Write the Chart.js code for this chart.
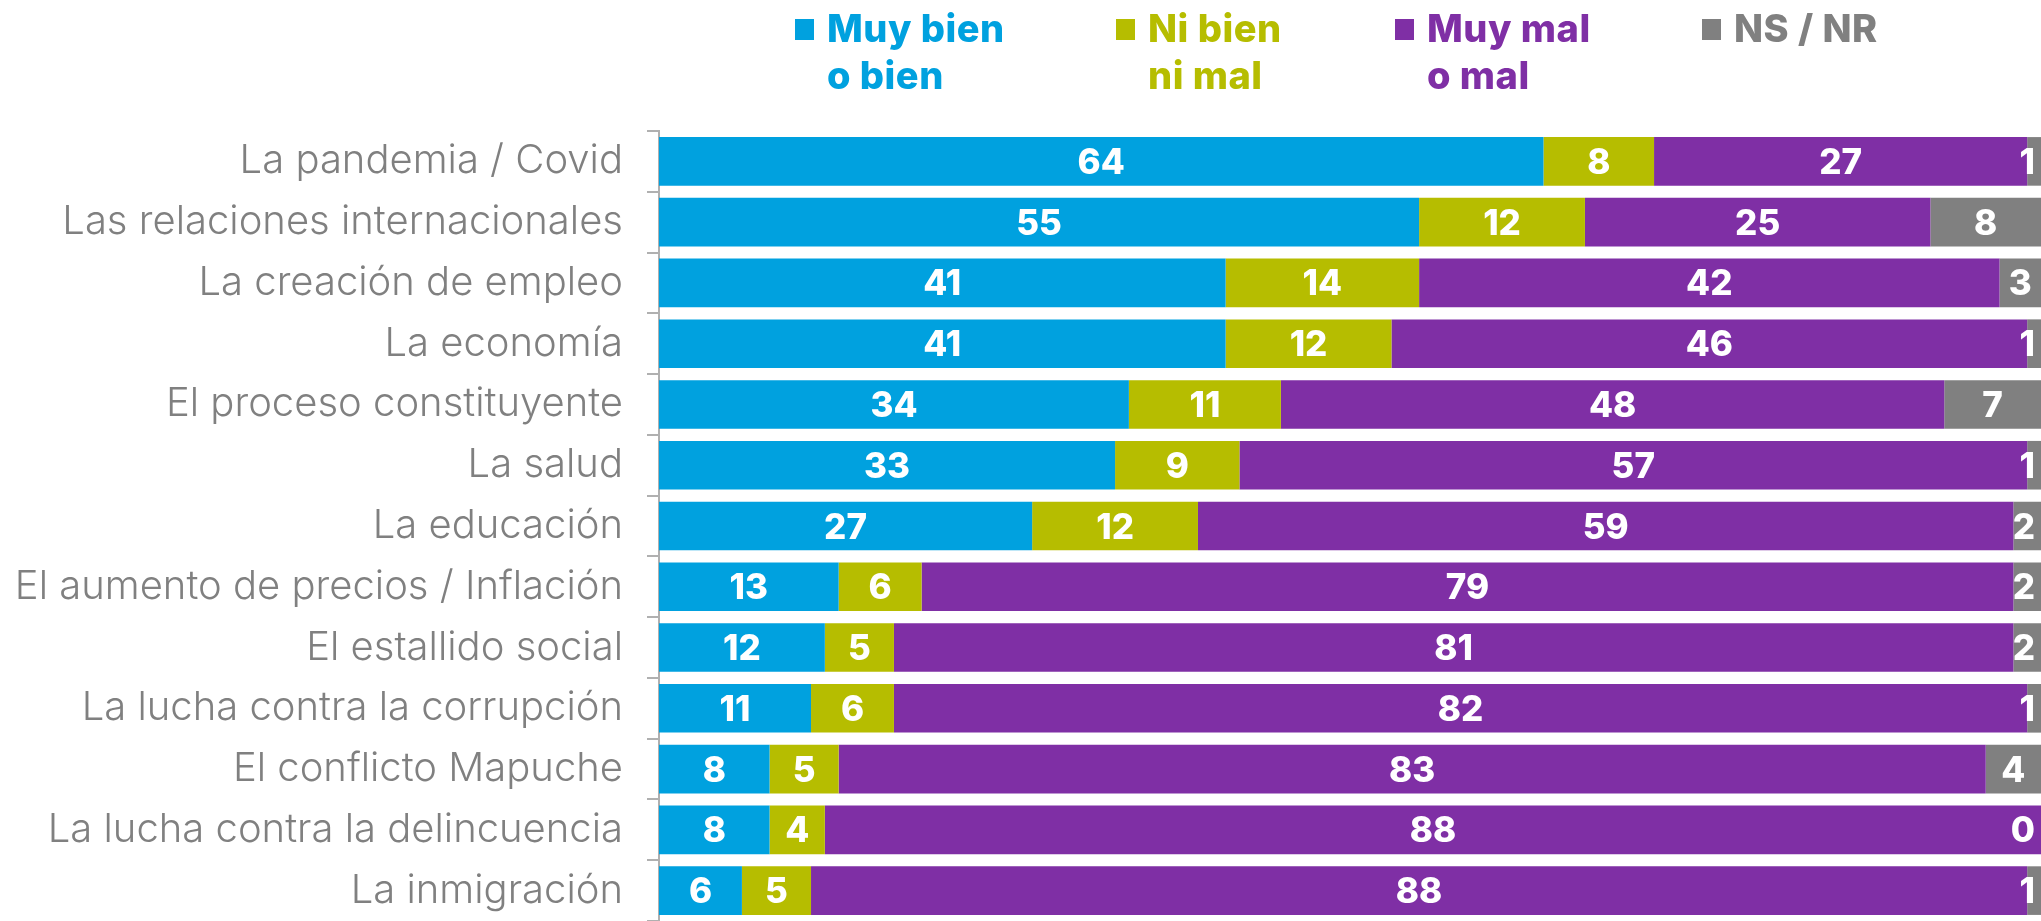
<!DOCTYPE html>
<html>
<head>
<meta charset="utf-8">
<script src="https://cdn.jsdelivr.net/npm/chart.js@4"></script>
<style>
  html, body { margin: 0; padding: 0; background: #fff; }
  #wrap { position: relative; width: 2041px; height: 921px; }
  #legend .item { position: absolute; top: 5px; font-family: Inter, "Open Sans", sans-serif; font-weight: 800; font-size: 38px; line-height: 47px; letter-spacing: 0.5px; }
  #legend .box { position: absolute; left: -32px; top: 14px; width: 19px; height: 21px; }
</style>
</head>
<body>
<div id="wrap">
  <div id="legend"></div>
  <canvas id="surveyChart" width="2041" height="921"></canvas>
</div>
<script>
const categories = [
  "La pandemia / Covid",
  "Las relaciones internacionales",
  "La creación de empleo",
  "La economía",
  "El proceso constituyente",
  "La salud",
  "La educación",
  "El aumento de precios / Inflación",
  "El estallido social",
  "La lucha contra la corrupción",
  "El conflicto Mapuche",
  "La lucha contra la delincuencia",
  "La inmigración"
];
const seriesNames = [["Muy bien", "o bien"], ["Ni bien", "ni mal"], ["Muy mal", "o mal"], ["NS / NR"]];
const muyBien = [64, 55, 41, 41, 34, 33, 27, 13, 12, 11, 8, 8, 6];
const niBien  = [8, 12, 14, 12, 11, 9, 12, 6, 5, 6, 5, 4, 5];
const muyMal  = [27, 25, 42, 46, 48, 57, 59, 79, 81, 82, 83, 88, 88];
const nsNr    = [1, 8, 3, 1, 7, 1, 2, 2, 2, 1, 4, 0, 1];

const colors = ["#00a1df", "#b6bd00", "#7f2fa5", "#808080"];
const legendLeft = [827, 1148, 1427, 1734];

// html legend
const legend = document.getElementById('legend');
seriesNames.forEach((name, i) => {
  const item = document.createElement('div');
  item.className = 'item';
  item.style.left = legendLeft[i] + 'px';
  item.style.color = colors[i];
  item.innerHTML = '<span class="box" style="background:' + colors[i] + '"></span>' + name.join('<br>');
  legend.appendChild(item);
});

// values inside the bars
const barLabels = {
  id: 'barLabels',
  afterDatasetsDraw(chart) {
    const ctx = chart.ctx;
    const right = chart.chartArea.right;
    ctx.save();
    ctx.font = '800 35px Inter, "Open Sans", sans-serif';
    ctx.fillStyle = '#fff';
    ctx.textAlign = 'center';
    ctx.textBaseline = 'middle';
    chart.data.datasets.forEach((ds, di) => {
      chart.getDatasetMeta(di).data.forEach((bar, i) => {
        const txt = String(ds.data[i]);
        const w = ctx.measureText(txt).width;
        let x = (bar.x + bar.base) / 2;
        x = Math.min(x, right - 6 - w / 2);
        ctx.fillText(txt, x, bar.y + 2);
      });
    });
    ctx.restore();
  }
};

const data = [muyBien, niBien, muyMal, nsNr];
new Chart(document.getElementById('surveyChart'), {
  type: 'bar',
  data: {
    labels: categories,
    datasets: data.map((d, i) => ({
      label: seriesNames[i].join(' '),
      data: d,
      backgroundColor: colors[i],
      categoryPercentage: 0.8,
      barPercentage: 1
    }))
  },
  options: {
    indexAxis: 'y',
    responsive: false,
    animation: false,
    layout: { padding: { top: 131, right: 0, bottom: 0, left: 0 } },
    plugins: { legend: { display: false }, tooltip: { enabled: false } },
    scales: {
      x: { stacked: true, min: 0, max: 100, display: false },
      y: {
        stacked: true,
        afterFit(scale) {
          scale.width = 659;
          scale.paddingTop = 0;
          scale.paddingBottom = 0;
        },
        grid: { display: true, offset: true, drawOnChartArea: false, drawTicks: true, tickLength: 12, color: '#b0b0b0', lineWidth: 2 },
        border: { display: true, color: '#b0b0b0', width: 2 },
        ticks: { color: '#808080', padding: 24, font: { family: 'Inter, "Open Sans", sans-serif', size: 40, weight: '300' } }
      }
    }
  },
  plugins: [barLabels]
});
</script>
</body>
</html>
